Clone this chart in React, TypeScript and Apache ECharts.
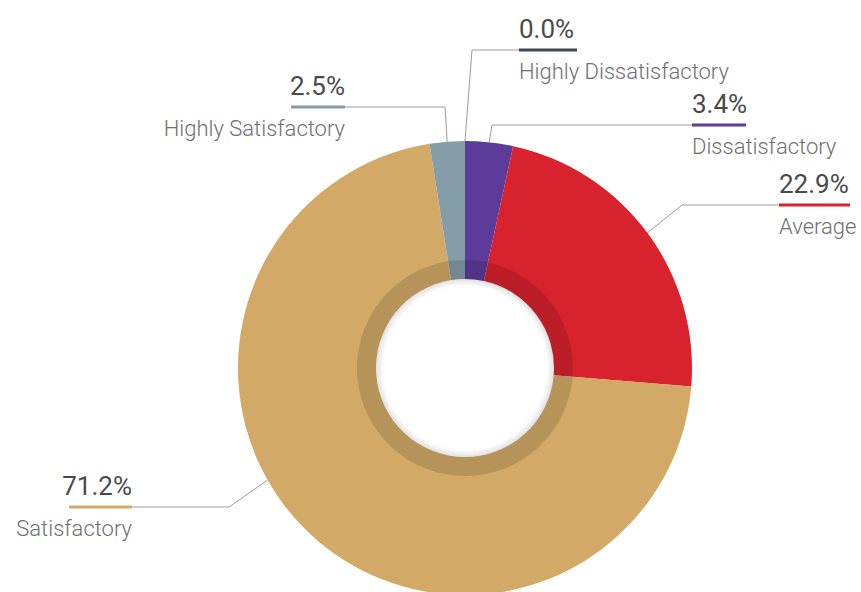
import React, { useEffect, useRef } from 'react';
import * as echarts from 'echarts';

const categories = ['Highly Dissatisfactory', 'Dissatisfactory', 'Average', 'Satisfactory', 'Highly Satisfactory'];
const values = [0.0, 3.4, 22.9, 71.2, 2.5];
const colors = ['#3e4a52', '#5c3b9a', '#d8232f', '#d2a966', '#859ca9'];

// layout constants (positions / styles)
const CX = 465;
const CY = 368;
const R_OUT = 227;
const R_IN = 89;
const R_RING = 108;

type LL = { ax: number; uy: number; bx: number; w: number; align: 'left' | 'right'; edgeDeg?: number };
const labelLayouts: LL[] = [
  { ax: 519, uy: 50, bx: 472, w: 58, align: 'left' },
  { ax: 692, uy: 125, bx: 492, w: 54, align: 'left' },
  { ax: 779, uy: 205, bx: 682, w: 71, align: 'left' },
  { ax: 132, uy: 507, bx: 229, w: 63, align: 'right', edgeDeg: 240.4 },
  { ax: 345, uy: 107, bx: 445, w: 54, align: 'right' },
];

const FONT = 'Roboto, "Noto Sans", sans-serif';
const V_LH = 40;
const N_LH = 40;

export default function App() {
  const ref = useRef<HTMLDivElement>(null);
  useEffect(() => {
    if (!ref.current) return;
    const chart = echarts.init(ref.current, undefined, { renderer: 'svg' });
    const total = values.reduce((a, b) => a + b, 0);
    const cum: number[] = [];
    let acc = 0;
    values.forEach((v) => {
      cum.push(acc);
      acc += v;
    });

    const data = categories.map((name, i) => {
      const L = labelLayouts[i];
      return {
        name,
        value: values[i],
        itemStyle: { color: colors[i] },
        label: {
          align: L.align,
          rich: {
            v: { fontFamily: FONT, fontSize: 26, color: '#4a4a4a', lineHeight: V_LH, align: L.align },
            u: { width: L.w, height: 3, lineHeight: 3, fontSize: 1, backgroundColor: colors[i], align: L.align },
            n: { fontFamily: FONT, fontSize: 22, fontWeight: 300, color: '#6f6f6f', lineHeight: N_LH, align: L.align },
          },
        },
      };
    });

    chart.setOption({
      animation: false,
      backgroundColor: '#ffffff',
      series: [
        {
          type: 'pie',
          center: [CX, CY],
          radius: [R_IN, R_OUT],
          startAngle: 90,
          clockwise: true,
          avoidLabelOverlap: false,
          minShowLabelAngle: 0,
          data,
          label: {
            show: true,
            position: 'outside',
            formatter: (p: any) => `{v|${Number(p.value).toFixed(1)}%}\n{u| }\n{n|${p.name}}`,
          },
          labelLine: {
            show: true,
            lineStyle: { color: '#9c9c9c', width: 1 },
          },
          labelLayout: (params: any) => {
            const i = params.dataIndex;
            const L = labelLayouts[i];
            const frac = L.edgeDeg !== undefined ? L.edgeDeg / 360 : (cum[i] + values[i] / 2) / total;
            const th = frac * 2 * Math.PI;
            const sx = CX + R_OUT * Math.sin(th);
            const sy = CY - R_OUT * Math.cos(th);
            return {
              x: L.ax,
              y: L.uy - 1.5 - V_LH,
              align: L.align,
              verticalAlign: 'top',
              labelLinePoints: [
                [sx, sy],
                [L.bx, L.uy],
                [L.ax, L.uy],
              ],
            };
          },
          emphasis: { disabled: true },
        },
        {
          type: 'pie',
          center: [CX, CY],
          radius: [R_IN, R_RING],
          startAngle: 90,
          clockwise: true,
          silent: true,
          data: categories.map((name, i) => ({ name, value: values[i] })),
          itemStyle: { color: 'rgba(0,0,0,0.13)' },
          label: { show: false },
          labelLine: { show: false },
          emphasis: { disabled: true },
          z: 3,
        },
      ],
      graphic: [
        {
          type: 'circle',
          silent: true,
          z: 100,
          shape: { cx: CX, cy: CY, r: R_IN },
          style: {
            fill: new echarts.graphic.RadialGradient(0.5, 0.5, 0.5, [
              { offset: 0, color: 'rgba(0,0,0,0)' },
              { offset: 0.92, color: 'rgba(0,0,0,0)' },
              { offset: 1, color: 'rgba(0,0,0,0.12)' },
            ]),
          },
        },
      ],
    });
    return () => chart.dispose();
  }, []);
  return (
    <div
      ref={ref}
      style={{ position: 'absolute', left: 0, top: 0, width: 861, height: 592 }}
    />
  );
}
